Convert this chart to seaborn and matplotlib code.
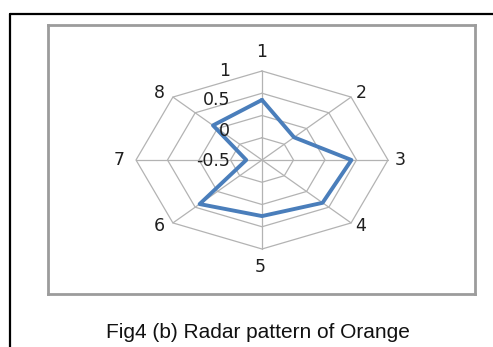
import numpy as np
import pandas as pd
import matplotlib
matplotlib.use("Agg")
import matplotlib.pyplot as plt
import seaborn as sns
from matplotlib.lines import Line2D

# ---- data ----
categories = ["1", "2", "3", "4", "5", "6", "7", "8"]
values = [0.35, -0.28, 0.42, 0.36, 0.26, 0.40, -0.75, 0.10]
ring_levels = [-0.5, 0.0, 0.5, 1.0]
ring_labels = ["-0.5", "0", "0.5", "1"]
r_min = -1.0
title = "Fig4 (b) Radar pattern of Orange"

sns.set_theme(style="white")
plt.rcParams["font.family"] = ["DejaVu Sans"]

W, H = 493, 347
fig = plt.figure(figsize=(W / 100, H / 100), dpi=100)

# inner chart box (pixels)
L, R, T, B = 48, 475, 25, 294
ax = fig.add_axes([L / W, 1 - B / H, (R - L) / W, (B - T) / H])

# geometry: center at (262,160) px, radius 126 px horiz / 89 px vert for full scale
cx, cy = 262, 160
sx = 2.0 / 126
sy = 2.0 / 89
ax.set_xlim((L - cx) * sx, (R - cx) * sx)
ax.set_ylim((cy - B) * sy, (cy - T) * sy)

n = len(categories)
theta = np.arange(n) * 2 * np.pi / n

def to_xy(vals):
    rad = np.asarray(vals, dtype=float) - r_min
    return rad * np.sin(theta), rad * np.cos(theta)

grid_col = "#b3b3b3"
# spokes
full = np.full(n, ring_levels[-1])
xs, ys = to_xy(full)
for xi, yi in zip(xs, ys):
    ax.plot([0, xi], [0, yi], color=grid_col, lw=0.9, zorder=1)
# rings
for lv in ring_levels:
    gx, gy = to_xy(np.full(n, lv))
    ax.plot(np.append(gx, gx[0]), np.append(gy, gy[0]), color=grid_col, lw=0.9, zorder=1)

# data polygon
dx, dy = to_xy(values)
df = pd.DataFrame({"x": np.append(dx, dx[0]), "y": np.append(dy, dy[0])})
sns.lineplot(data=df, x="x", y="y", sort=False, estimator=None, ax=ax,
             color="#4a7ebb", lw=2.8, zorder=3, legend=False)

# category labels
offsets = [(0, 19), (10, 4), (12, 0), (10, -3), (-2, -18), (-14, -3), (-17, 0), (-14, 4)]
for i, (lab, (ox, oy)) in enumerate(zip(categories, offsets)):
    ax.annotate(lab, (xs[i], ys[i]), xytext=(ox, oy), textcoords="offset pixels",
                ha="center", va="center", fontsize=12.5, color="#1f1f1f")

# radial axis labels (right-aligned left of the vertical spoke)
lab_x = (230 - cx) * sx
for i, lab in enumerate(ring_labels):
    ax.text(lab_x, (cy - [161, 131, 100, 71][i]) * sy, lab, ha="right", va="center",
            fontsize=12.5, color="#1f1f1f")

ax.set_xticks([])
ax.set_yticks([])
ax.set_xlabel("")
ax.set_ylabel("")
for sp in ax.spines.values():
    sp.set_color("#9c9c9c")
    sp.set_linewidth(2.0)
    sp.set_visible(True)

# outer black frame (left and top edges visible)
fig.add_artist(Line2D([9.5 / W, 9.5 / W], [0, 1 - 14 / H], color="black", lw=1.6,
                      transform=fig.transFigure))
fig.add_artist(Line2D([9.5 / W, 1], [1 - 14 / H, 1 - 14 / H], color="black", lw=1.6,
                      transform=fig.transFigure))

fig.text(258 / W, 1 - 332 / H, title, ha="center", va="center", fontsize=15,
         family=["Liberation Sans", "DejaVu Sans"], color="#111111")

fig.savefig("out.png", dpi=100)
